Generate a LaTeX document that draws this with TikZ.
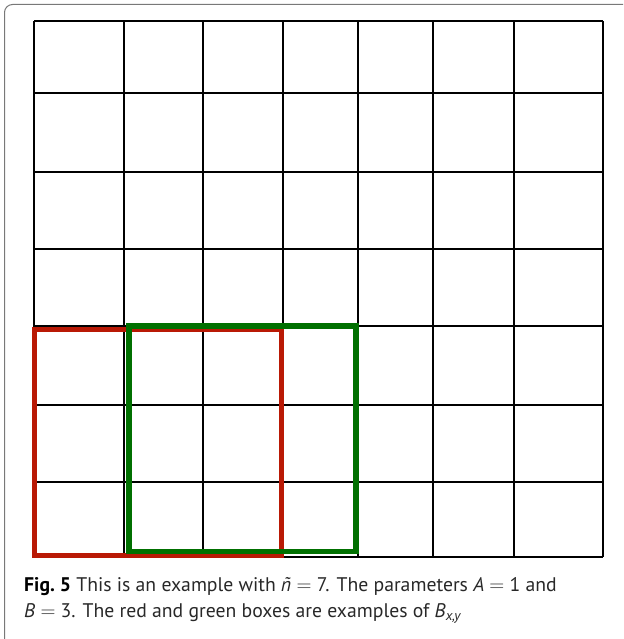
\documentclass[tikz,border=0pt]{standalone}
\usepackage{fontspec}
\setmainfont{PT Sans}
\definecolor{boxred}{RGB}{185,25,5}
\definecolor{boxgreen}{RGB}{0,112,0}
\definecolor{frame}{RGB}{120,120,120}
\definecolor{captext}{RGB}{40,40,40}
\newcommand{\eqsign}{ $=$ }
\begin{document}
\begin{tikzpicture}[x=1pt,y=-1pt,
  gridline/.style={line width=1.4pt,black},
  outerframe/.style={draw=frame,line width=1pt,rounded corners=8pt},
  redbox/.style={draw=boxred,line width=5pt},
  greenbox/.style={draw=boxgreen,line width=5.3pt},
  captionline/.style={anchor=base west,inner sep=0pt,font=\fontsize{19.7}{24}\selectfont,text=captext}]
\useasboundingbox (0,0) rectangle (623,639);
\begin{scope}
\clip (0,0) rectangle (623,639);
\draw[outerframe] (4.5,4.5) rectangle (640,660);
\end{scope}
% grid
\foreach \x in {34,124,203,283,358,433,514,603}
  \draw[gridline] (\x,21) -- (\x,557);
\foreach \y in {21,93,172,249,326,405,482,557}
  \draw[gridline] (34,\y) -- (603,\y);
% boxes
\draw[redbox] (34.5,329) rectangle (281,555);
\draw[greenbox] (129,326) rectangle (356,551.5);
% caption
\node[captionline] (cap1) at (24,591) {{\bfseries\color{black}Fig.~5} This is an example with \textit{\~n}\eqsign 7. The parameters \textit{A}\eqsign 1 and};
\node[captionline] (cap2) at (24,617) {\textit{B}\eqsign 3. The red and green boxes are examples of \textit{B}\textsubscript{\textit{x,y}}};
\end{tikzpicture}
\end{document}
